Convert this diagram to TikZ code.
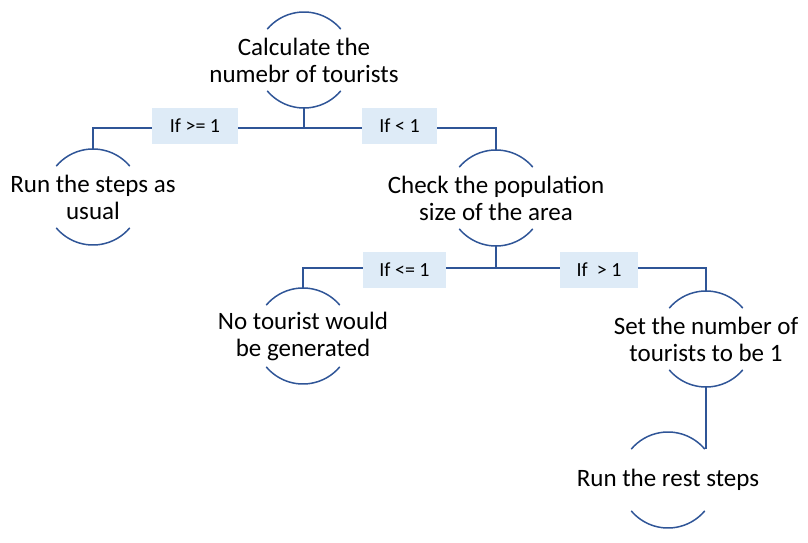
\documentclass[tikz,border=0pt]{standalone}
\usepackage{fontspec}
\setmainfont{Carlito}
\definecolor{linkblue}{HTML}{2F5597}
\definecolor{boxblue}{HTML}{DEEBF7}
\begin{document}
\begin{tikzpicture}[x=1pt,y=1pt,
  stepnode/.style={circle,minimum size=96pt,inner sep=0pt,draw=none},
  steptext/.style={font=\fontsize{25}{27}\selectfont,align=center,text=black,inner sep=0pt},
  steparc/.style={draw=linkblue,line width=1.5pt},
  link/.style={draw=linkblue,line width=1.5pt},
  condbox/.style={fill=boxblue,draw=none,minimum height=36pt,inner sep=0pt,
    font=\fontsize{20}{22}\selectfont,text=black}]
\useasboundingbox (0,0) rectangle (808,542);
% step nodes
\node[stepnode,label={[steptext]center:Calculate the\\numebr of tourists}] (n1) at (304,482) {};
\node[stepnode,label={[steptext]center:Run the steps as\\usual}] (n2) at (93,345) {};
\node[stepnode,label={[steptext]center:Check the population\\size of the area}] (n3) at (496,344) {};
\node[stepnode,label={[steptext]center:No tourist would\\be generated}] (n4) at (303,206) {};
\node[stepnode,label={[steptext]center:Set the number of\\tourists to be 1}] (n5) at (706,203) {};
\node[stepnode,label={[steptext]center:Run the rest steps}] (n6) at (668,62) {};
% arcs
\foreach \n in {n1,n2,n3,n4,n5,n6}{
  \draw[steparc] ([shift={(40:48pt)}]\n.center) arc[start angle=40,end angle=140,radius=48pt];
  \draw[steparc] ([shift={(220:48pt)}]\n.center) arc[start angle=220,end angle=320,radius=48pt];
}
% branch points
\coordinate (b1) at (304,414);
\coordinate (b2) at (496,274);
\coordinate (n6e) at ([shift={(40:48pt)}]n6.center);
% connectors
\draw[link] (n1.south) -- (b1);
\draw[link] (b1) -| (n2.north);
\draw[link] (b1) -| (n3.north);
\draw[link] (n3.south) -- (b2);
\draw[link] (b2) -| (n4.north);
\draw[link] (b2) -| (n5.north);
\draw[link] (n5.south) -- (n5.south |- n6e);
% condition labels
\node[condbox,minimum width=86pt] (c1) at (195,416) {If >= 1};
\node[condbox,minimum width=75pt] (c2) at (399.5,416) {If < 1};
\node[condbox,minimum width=83pt] (c3) at (404.5,272.5) {If <= 1};
\node[condbox,minimum width=78pt] (c4) at (599,272.5) {If \ > 1};
\end{tikzpicture}
\end{document}
